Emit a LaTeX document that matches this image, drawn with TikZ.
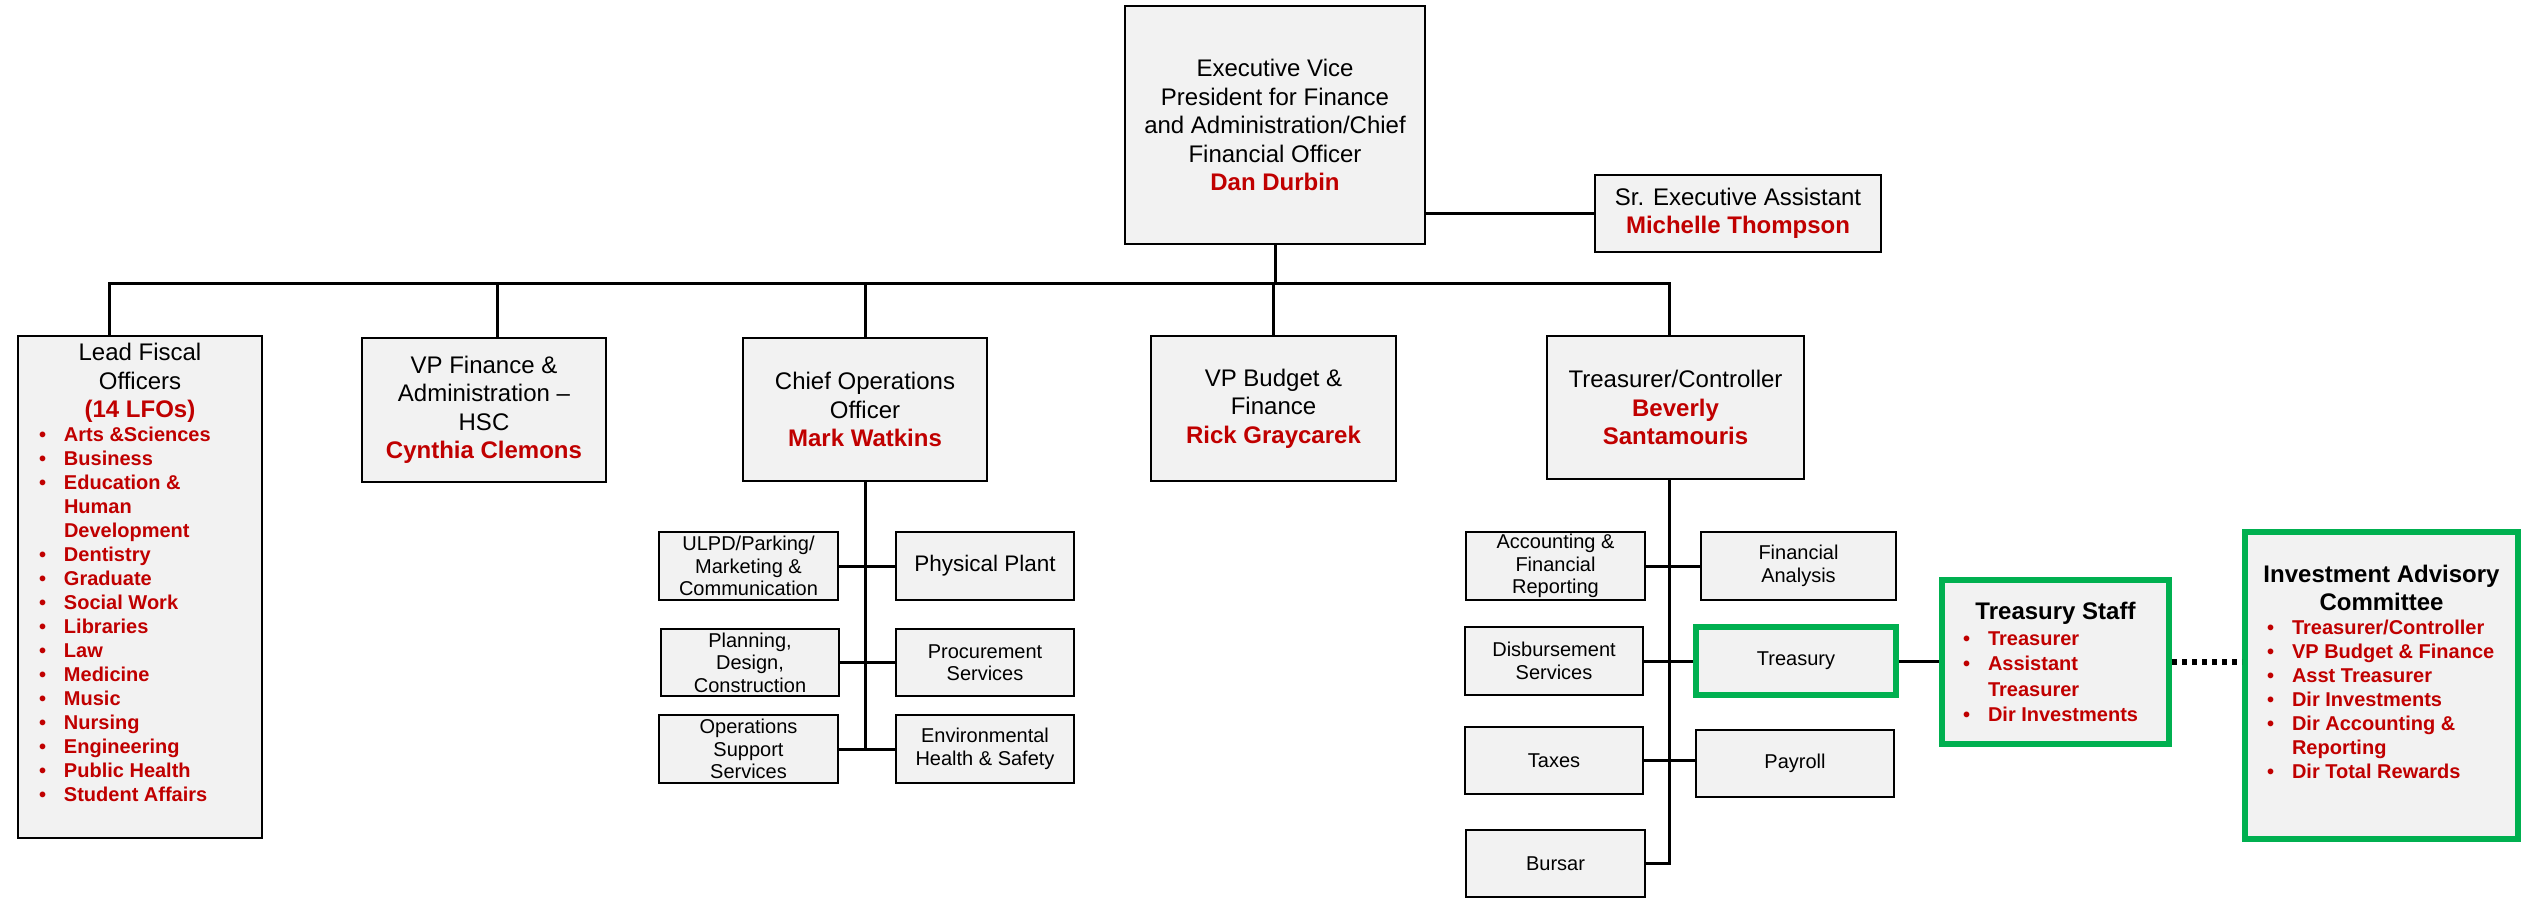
\documentclass[tikz,border=0pt]{standalone}
\usepackage{fontspec}
\setmainfont{Liberation Sans}

\definecolor{namered}{HTML}{C00000}
\definecolor{boxgreen}{HTML}{00B050}
\definecolor{boxgray}{HTML}{F2F2F2}

\newcommand{\nm}[1]{{\bfseries\color{namered}#1}}
\newcommand{\bul}{\makebox[25pt][l]{\textbullet}}
\newcommand{\ind}{\hspace*{25pt}}

\tikzset{
  unitbase/.style={draw, line width=2.5pt, fill=boxgray, inner sep=0pt,
    font=\fontsize{24}{28.5}\selectfont},
  unit/.style={unitbase, align=center},
  subunit/.style={unit, font=\fontsize{20}{22.5}\selectfont},
  keyunit/.style={draw=boxgreen, line width=6pt},
  link/.style={line width=3pt},
  dotlink/.style={line width=6pt, dash pattern=on 5pt off 5pt},
}

\begin{document}
\begin{tikzpicture}[x=1pt, y=-1pt]
  \useasboundingbox (0,0) rectangle (2521,900);
  % Top
  \node[unit, minimum width=300pt, minimum height=238pt] (evp) at (1275,125)
    {Executive Vice\\President for Finance\\and Administration/Chief\\Financial Officer\\\nm{Dan Durbin}};
  \node[unit, minimum width=286pt, minimum height=77pt] (sr) at (1738,213.5)
    {Sr. Executive Assistant\\\nm{Michelle Thompson}};
  % Second row
  \node[unitbase, minimum width=244pt, minimum height=502pt] (lfo) at (140,587)
    {\begin{minipage}[c][487pt][t]{202pt}\centering
     Lead Fiscal\\Officers\\\nm{(14 LFOs)}\par
     \raggedright\fontsize{20}{24}\selectfont\bfseries\leavevmode\color{namered}%
     \bul Arts \&Sciences\\\bul Business\\\bul Education \&\\\ind Human\\\ind Development\\
     \bul Dentistry\\\bul Graduate\\\bul Social Work\\\bul Libraries\\\bul Law\\
     \bul Medicine\\\bul Music\\\bul Nursing\\\bul Engineering\\\bul Public Health\\
     \bul Student Affairs
     \end{minipage}};
  \node[unit, minimum width=244pt, minimum height=144pt] (hsc) at (484,410)
    {VP Finance \&\\Administration --\\HSC\\\nm{Cynthia Clemons}};
  \node[unit, minimum width=244pt, minimum height=143pt] (coo) at (865,409.5)
    {Chief Operations\\Officer\\\nm{Mark Watkins}};
  \node[unit, minimum width=245pt, minimum height=145pt] (vpb) at (1273.5,408.5)
    {VP Budget \&\\Finance\\\nm{Rick Graycarek}};
  \node[unit, minimum width=257pt, minimum height=143pt] (trc) at (1675.5,407.5)
    {Treasurer/Controller\\\nm{Beverly}\\\nm{Santamouris}};
  % Operations units
  \node[subunit, minimum width=179pt, minimum height=68pt] (ulpd) at (748.5,566)
    {ULPD/Parking/\\Marketing \&\\Communication};
  \node[subunit, minimum width=178pt, minimum height=67pt] (plan) at (750,662.5)
    {Planning,\\Design,\\Construction};
  \node[subunit, minimum width=179pt, minimum height=68pt] (ops) at (748.5,749)
    {Operations\\Support\\Services};
  \node[subunit, minimum width=178pt, minimum height=68pt, font=\fontsize{22.5}{26}\selectfont] (plant) at (985,566)
    {Physical Plant};
  \node[subunit, minimum width=178pt, minimum height=67pt] (proc) at (985,662.5)
    {Procurement\\Services};
  \node[subunit, minimum width=178pt, minimum height=68pt] (envh) at (985,749)
    {Environmental\\Health \& Safety};
  % Treasurer units
  \node[subunit, minimum width=179pt, minimum height=68pt] (acct) at (1555.5,566)
    {Accounting \&\\Financial\\Reporting};
  \node[subunit, minimum width=178pt, minimum height=68pt] (disb) at (1554,661)
    {Disbursement\\Services};
  \node[subunit, minimum width=178pt, minimum height=67pt] (taxes) at (1554,760.5)
    {Taxes};
  \node[subunit, minimum width=179pt, minimum height=67pt] (bursar) at (1555.5,863.5)
    {Bursar};
  \node[subunit, minimum width=195pt, minimum height=68pt] (finan) at (1798.5,566)
    {Financial\\Analysis};
  \node[subunit, keyunit, minimum width=200pt, minimum height=68pt] (tsy) at (1796,661)
    {Treasury};
  \node[subunit, minimum width=198pt, minimum height=67pt] (payroll) at (1795,763.5)
    {Payroll};
  % Treasury staff and committee
  \node[unitbase, keyunit, minimum width=227pt, minimum height=164pt] (staff) at (2055.5,662)
    {\begin{minipage}{185pt}\centering\bfseries
     Treasury Staff\par
     \raggedright\fontsize{20}{25.5}\selectfont\leavevmode\color{namered}%
     \bul Treasurer\\\bul Assistant\\\ind Treasurer\\\bul Dir Investments
     \end{minipage}};
  \node[unitbase, keyunit, minimum width=273pt, minimum height=307pt] (iac) at (2381.5,685.5)
    {\begin{minipage}[c][241pt][t]{229pt}\centering\bfseries\fontsize{24}{28}\selectfont
     \makebox[\linewidth]{Investment Advisory}\\Committee\par
     \raggedright\fontsize{20}{24}\selectfont\leavevmode\color{namered}%
     \bul Treasurer/Controller\\\bul VP Budget \& Finance\\\bul Asst Treasurer\\
     \bul Dir Investments\\\bul Dir Accounting \&\\\ind Reporting\\\bul Dir Total Rewards
     \end{minipage}};
  % Links
  \coordinate (barL) at (109,283);
  \coordinate (barR) at (1669,283);
  \coordinate (dropHsc) at (497,283);
  \draw[link] (evp.south) -- (evp.south |- barL);
  \draw[link] (sr.west) -- (sr.west -| evp.east);
  \draw[link] (barL |- lfo.north) -- (barL) -- (barR) -- (barR |- trc.north);
  \draw[link] (dropHsc) -- (dropHsc |- hsc.north);
  \draw[link] (coo.north |- barL) -- (coo.north);
  \draw[link] (vpb.north |- barL) -- (vpb.north);
  % Operations links
  \draw[link] (coo.south) -- (coo.south |- envh.west);
  \draw[link] (ulpd.east) -- (plant.west);
  \draw[link] (plan.east) -- (proc.west);
  \draw[link] (ops.east) -- (envh.west);
  % Treasurer links
  \draw[link] (barR |- trc.south) -- (barR |- bursar.east) -- (bursar.east);
  \draw[link] (acct.east) -- (finan.west);
  \draw[link] (disb.east) -- (tsy.west);
  \draw[link] (taxes.east) -- (taxes.east -| payroll.west);
  \draw[link] (tsy.east) -- (tsy.east -| staff.west);
  \draw[dotlink] (staff.east) -- (staff.east -| iac.west);
\end{tikzpicture}
\end{document}
